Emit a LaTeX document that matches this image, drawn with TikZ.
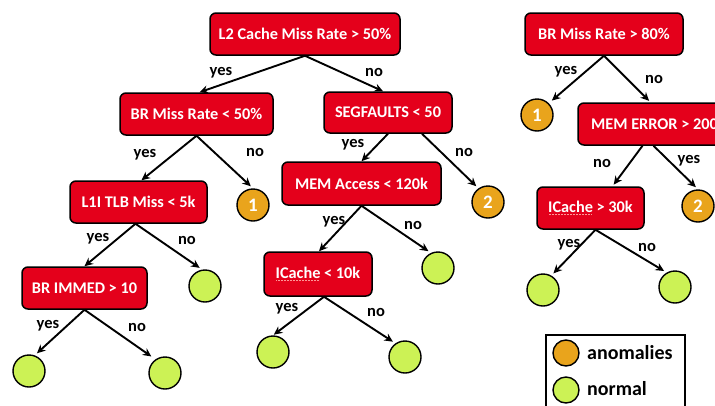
\documentclass[tikz,border=0pt]{standalone}
\usepackage{fontspec}
\setmainfont{Carlito}
\usetikzlibrary{arrows.meta}

\definecolor{boxred}{RGB}{228,0,27}
\definecolor{anomaly}{RGB}{233,164,28}
\definecolor{normalc}{RGB}{204,242,85}
\definecolor{squig}{RGB}{255,150,150}

% dotted spell-check mark under a word
\newcommand\spellmark[1]{\setbox0=\hbox{#1}\rlap{\raisebox{-2.8pt}{\color{squig}\hbox to \wd0{\leaders\hbox to 1.5pt{\hss\rule{0.8pt}{0.8pt}\hss}\hfill}}}\box0\relax}

\tikzset{
  test/.style={draw=black, line width=1.5pt, fill=boxred, rounded corners=6pt,
    text=white, font=\bfseries\fontsize{16.3}{19}\selectfont, inner sep=0pt},
  leaf/.style={circle, draw=black, line width=1.4pt, minimum size=32pt, inner sep=0pt,
    text=white, font=\bfseries\fontsize{19}{22}\selectfont},
  anom/.style={leaf, fill=anomaly},
  norm/.style={leaf, fill=normalc},
  branch/.style={-{Stealth[length=8.5pt,width=8pt]}, line width=1.9pt},
  lbl/.style={font=\bfseries\fontsize{16.5}{19}\selectfont, inner sep=0pt},
  legendbox/.style={draw=black, line width=1.3pt, fill=white, inner sep=0pt},
  legtext/.style={font=\bfseries\fontsize{20}{24}\selectfont, inner sep=0pt, anchor=west},
}

\begin{document}
\begin{tikzpicture}[x=1pt, y=-1pt]
\path[use as bounding box, fill=white] (0,0) rectangle (715,405);
\clip (0,0) rectangle (715,405);

% ---- left tree: test nodes
\node[test, minimum width=190pt, minimum height=42pt] (L2)   at (305,34)    {L2 Cache Miss Rate > 50\%};
\node[test, minimum width=153pt, minimum height=42pt] (BRlt) at (196.5,114) {BR Miss Rate < 50\%};
\node[test, minimum width=128pt, minimum height=41pt] (SEG)  at (388,112.5) {SEGFAULTS < 50};
\node[test, minimum width=159pt, minimum height=43pt] (MEMA) at (361.5,183.5) {MEM Access < 120k};
\node[test, minimum width=108pt, minimum height=44pt] (IC10) at (318,274)   {\spellmark{ICache} < 10k};
\node[test, minimum width=137pt, minimum height=42pt] (L1I)  at (138.5,202) {L1I TLB Miss < 5k};
\node[test, minimum width=125pt, minimum height=42pt] (BRIM) at (84.5,288)  {BR IMMED > 10};

% ---- left tree: leaves
\node[anom] (c1a) at (253,205) {1};
\node[anom] (c2a) at (488,202) {2};
\node[norm] (gA) at (205,286) {};
\node[norm] (gB) at (29,371) {};
\node[norm] (gC) at (165,373) {};
\node[norm] (gD) at (438,268) {};
\node[norm] (gE) at (273,352) {};
\node[norm] (gF) at (405,357) {};

% ---- right tree
\node[test, minimum width=158pt, minimum height=42pt] (BRgt) at (604,34)    {BR Miss Rate > 80\%};
\node[test, minimum width=153pt, minimum height=42pt] (MEME) at (654.5,124) {MEM ERROR > 200};
\node[test, minimum width=107pt, minimum height=42pt] (IC30) at (590.5,208) {\spellmark{ICache} > 30k};
\node[anom] (c1b) at (537,115) {1};
\node[anom] (c2b) at (698,206) {2};
\node[norm] (gG) at (543,290) {};
\node[norm] (gH) at (675,287) {};

% ---- branches
\draw[branch] (L2.south) -- ([xshift=3pt]BRlt.north);
\draw[branch] (L2.south) -- ([xshift=-5pt]SEG.north);
\draw[branch] (BRlt.south) -- ([xshift=3pt]L1I.north);
\draw[branch, shorten >=3pt] (BRlt.south) -- (c1a.north);
\draw[branch] (SEG.south) -- (MEMA.north);
\draw[branch, shorten >=3pt] ([xshift=34pt]SEG.south) -- (c2a.125);
\draw[branch] (MEMA.south) -- ([xshift=1pt]IC10.north);
\draw[branch, shorten >=3pt] (MEMA.south) -- (gD.115);
\draw[branch, shorten >=1pt] ([xshift=6pt]IC10.south) -- (gE.north);
\draw[branch, shorten >=3pt] ([xshift=6pt]IC10.south) -- (gF.125);
\draw[branch] ([xshift=-3pt]L1I.south) -- (BRIM.north);
\draw[branch, shorten >=3pt] ([xshift=-3pt]L1I.south) -- (gA.100);
\draw[branch, shorten >=3pt] (BRIM.south) -- (gB.70);
\draw[branch, shorten >=5pt] (BRIM.south) -- (gC.125);
\draw[branch, shorten >=4pt] (BRgt.south) -- (c1b.45);
\draw[branch, shorten >=2pt] (BRgt.south) -- ([xshift=-4pt]MEME.north);
\draw[branch, shorten >=2pt] ([xshift=-12pt]MEME.south) -- ([xshift=22pt]IC30.north);
\draw[branch, shorten >=3pt] ([xshift=-1pt]MEME.south) -- (c2b.north);
\draw[branch, shorten >=3pt] ([xshift=5pt]IC30.south) -- (gG.60);
\draw[branch, shorten >=3pt] ([xshift=5pt]IC30.south) -- (gH.120);

% ---- branch labels
\node[lbl] (y1) at (221,73) {yes};
\node[lbl] (n1) at (374,72) {no};
\node[lbl] (y2) at (145,155) {yes};
\node[lbl] (n2) at (255,152) {no};
\node[lbl] (y3) at (353,145) {yes};
\node[lbl] (n3) at (464,152) {no};
\node[lbl] (y4) at (334,222) {yes};
\node[lbl] (n4) at (413,225) {no};
\node[lbl] (y5) at (287,309) {yes};
\node[lbl] (n5) at (376,312) {no};
\node[lbl] (y6) at (98,239) {yes};
\node[lbl] (n6) at (187,240) {no};
\node[lbl] (y7) at (48,326) {yes};
\node[lbl] (n7) at (137,327) {no};
\node[lbl] (y8) at (566,72) {yes};
\node[lbl] (n8) at (654,79) {no};
\node[lbl] (n9) at (602,163) {no};
\node[lbl] (y9) at (689,161) {yes};
\node[lbl] (y10) at (569,245) {yes};
\node[lbl] (n10) at (647,247) {no};

% ---- legend
\node[legendbox, minimum width=139pt, minimum height=84pt] (legend) at (615.5,377) {};
\node[leaf, fill=anomaly, minimum size=26pt] (lgA) at (566,353) {};
\node[leaf, fill=normalc, minimum size=26pt] (lgN) at (566,390) {};
\node[legtext] (lgAt) at (587,353) {anomalies};
\node[legtext] (lgNt) at (587,389) {normal};
\end{tikzpicture}
\end{document}
